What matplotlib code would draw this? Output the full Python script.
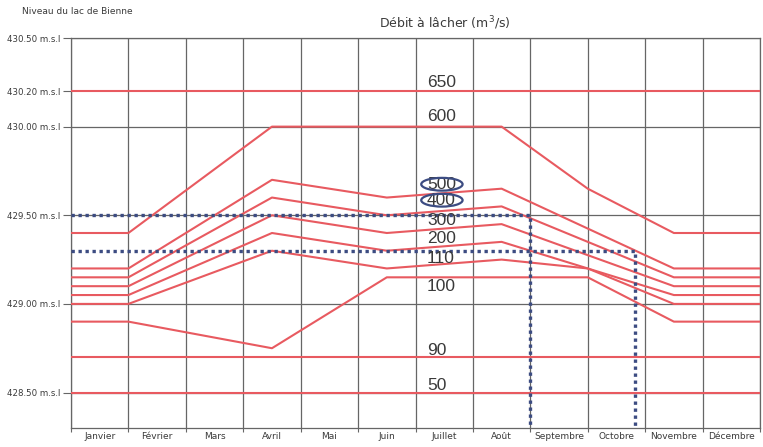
import matplotlib
matplotlib.use("Agg")
import matplotlib.pyplot as plt
from matplotlib.patches import Ellipse

# ---- data ----
months = ["Janvier", "Février", "Mars", "Avril", "Mai", "Juin", "Juillet",
          "Août", "Septembre", "Octobre", "Novembre", "Décembre"]

# x positions in months (0 = 1 Jan, 12 = 31 Dec)
x_std = [0, 1, 3.5, 5.5, 7.5, 10.5, 12]
series = {
    "650": ([0, 12], [430.20, 430.20]),
    "600": ([0, 1, 3.5, 7.5, 9, 10.5, 12],
            [429.40, 429.40, 430.00, 430.00, 429.65, 429.40, 429.40]),
    "500": (x_std, [429.20, 429.20, 429.70, 429.60, 429.65, 429.20, 429.20]),
    "400": (x_std, [429.15, 429.15, 429.60, 429.50, 429.55, 429.15, 429.15]),
    "300": (x_std, [429.10, 429.10, 429.50, 429.40, 429.45, 429.10, 429.10]),
    "200": (x_std, [429.05, 429.05, 429.40, 429.30, 429.35, 429.05, 429.05]),
    "110": ([0, 1, 3.5, 5.5, 7.5, 9, 10.5, 12],
            [429.00, 429.00, 429.30, 429.20, 429.25, 429.20, 429.00, 429.00]),
    "100": ([0, 1, 3.5, 5.5, 9, 10.5, 12],
            [428.90, 428.90, 428.75, 429.15, 429.15, 428.90, 428.90]),
    "90": ([0, 12], [428.70, 428.70]),
    "50": ([0, 12], [428.50, 428.50]),
}

# label y positions
label_y = {"650": 430.25, "600": 430.055, "500": 429.675, "400": 429.585,
           "300": 429.47, "200": 429.37, "110": 429.255, "100": 429.10,
           "90": 428.74, "50": 428.54}
label_x = 6.2
circled = ["500", "400"]

# dotted reading lines
dot_upper_x = [0, 8.0, 8.0]
dot_upper_y = [429.50, 429.50, 428.30]
dot_lower_x = [0, 9.82, 9.82]
dot_lower_y = [429.30, 429.30, 428.30]

y_major = [428.5, 429.0, 429.5, 430.0, 430.5]
y_minor = [430.2]

# ---- plot ----
W, H = 763, 447
fig = plt.figure(figsize=(W / 100, H / 100), dpi=100)
ax = fig.add_axes([71 / W, 1 - 428 / H, (760 - 71) / W, (428 - 38) / H])

red = "#e85a60"
grid_c = "#666666"
navy = "#3c4c82"
txt = "#3a3a3a"

for name, (xs, ys) in series.items():
    ax.plot(xs, ys, color=red, lw=1.5, zorder=3, solid_capstyle="butt")

for name in series:
    ax.text(label_x, label_y[name], name, fontsize=12.5, color=txt,
            family=["Liberation Sans", "DejaVu Sans"],
            ha="left", va="center", zorder=5)

for name in circled:
    ax.add_patch(Ellipse((6.46, label_y[name]), 0.72, 0.072, fill=False,
                         edgecolor=navy, lw=1.6, zorder=6))

for xs, ys in [(dot_upper_x, dot_upper_y), (dot_lower_x, dot_lower_y)]:
    ax.plot(xs, ys, color=navy, lw=2.4, dashes=(1, 1.1),
            dash_capstyle="butt", zorder=4)

ax.set_xlim(0, 12)
ax.set_ylim(428.30, 430.50)

ax.set_xticks(range(13))
ax.set_xticklabels([])
ax.set_xticks([i + 0.5 for i in range(12)], minor=True)
ax.set_xticklabels(months, minor=True, fontsize=6.5, color=txt)
ax.tick_params(axis="x", which="major", length=3, color=grid_c, width=0.8)
ax.tick_params(axis="x", which="minor", length=0, pad=3)

ax.set_yticks(y_major)
ax.set_yticklabels([f"{v:.2f} m.s.l" for v in y_major], fontsize=6.2, color=txt)
ax.set_yticks(y_minor, minor=True)
ax.set_yticklabels([f"{v:.2f} m.s.l" for v in y_minor], minor=True,
                   fontsize=6.2, color=txt)
ax.tick_params(axis="y", which="both", length=6, color=grid_c, width=0.8, pad=2)

ax.set_axisbelow(True)
ax.xaxis.grid(True, which="major", color=grid_c, lw=0.9)
ax.yaxis.grid(True, which="major", color=grid_c, lw=0.9)
for s in ax.spines.values():
    s.set_color(grid_c)
    s.set_linewidth(0.9)

fig.text(22 / W, 1 - 12 / H, "Niveau du lac de Bienne", fontsize=6.5,
         color=txt, ha="left", va="center")
fig.text(445 / W, 1 - 23 / H, "Débit à lâcher (m$^3$/s)", fontsize=9,
         color=txt, ha="center", va="center")

fig.savefig("out.png", dpi=100, facecolor="white")
